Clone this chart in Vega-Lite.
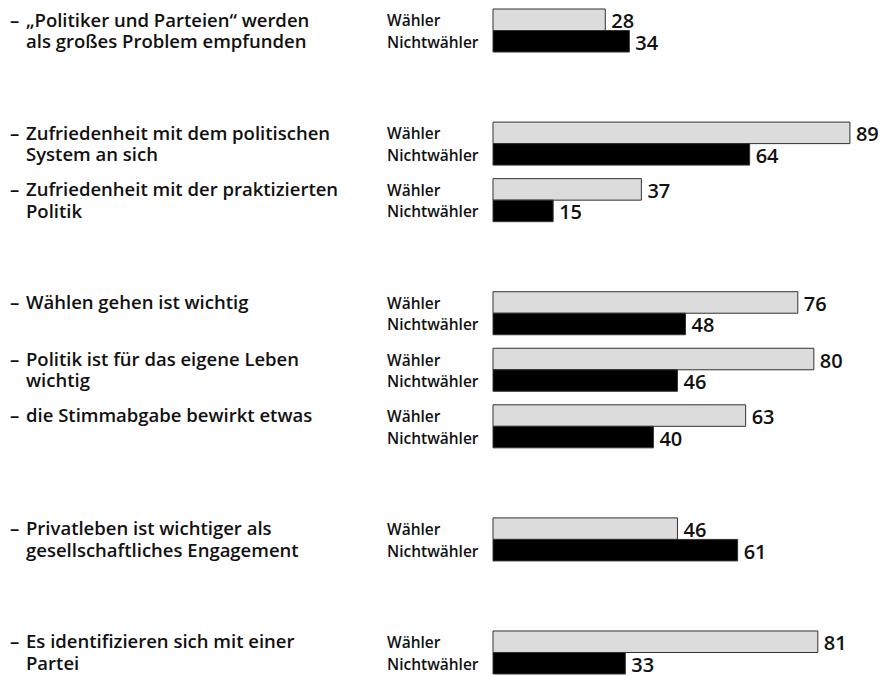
{
  "$schema": "https://vega.github.io/schema/vega-lite/v6.json",
  "width": 389,
  "height": 665,
  "autosize": {"type": "none"},
  "padding": {"left": 493, "top": 9, "right": 0, "bottom": 1},
  "background": "white",
  "config": {"view": {"stroke": null}, "font": "Open Sans"},
  "datasets": {
    "bars": [
      {"item": "s1", "group": "Wähler", "value": 28},
      {"item": "s1", "group": "Nichtwähler", "value": 34},
      {"item": "s2", "group": "Wähler", "value": 89},
      {"item": "s2", "group": "Nichtwähler", "value": 64},
      {"item": "s3", "group": "Wähler", "value": 37},
      {"item": "s3", "group": "Nichtwähler", "value": 15},
      {"item": "s4", "group": "Wähler", "value": 76},
      {"item": "s4", "group": "Nichtwähler", "value": 48},
      {"item": "s5", "group": "Wähler", "value": 80},
      {"item": "s5", "group": "Nichtwähler", "value": 46},
      {"item": "s6", "group": "Wähler", "value": 63},
      {"item": "s6", "group": "Nichtwähler", "value": 40},
      {"item": "s7", "group": "Wähler", "value": 46},
      {"item": "s7", "group": "Nichtwähler", "value": 61},
      {"item": "s8", "group": "Wähler", "value": 81},
      {"item": "s8", "group": "Nichtwähler", "value": 33}
    ],
    "labels": [
      {"item": "s1", "dash": "–", "label": "„Politiker und Parteien“ werden\nals großes Problem empfunden"},
      {"item": "s2", "dash": "–", "label": "Zufriedenheit mit dem politischen\nSystem an sich"},
      {"item": "s3", "dash": "–", "label": "Zufriedenheit mit der praktizierten\nPolitik"},
      {"item": "s4", "dash": "–", "label": "Wählen gehen ist wichtig"},
      {"item": "s5", "dash": "–", "label": "Politik ist für das eigene Leben\nwichtig"},
      {"item": "s6", "dash": "–", "label": "die Stimmabgabe bewirkt etwas"},
      {"item": "s7", "dash": "–", "label": "Privatleben ist wichtiger als\ngesellschaftliches Engagement"},
      {"item": "s8", "dash": "–", "label": "Es identifizieren sich mit einer\nPartei"}
    ]
  },
  "layer": [
    {
      "data": {"name": "bars"},
      "mark": {"type": "bar", "stroke": "#333333", "strokeWidth": 1},
      "encoding": {
        "y": {"field": "item", "type": "nominal", "scale": {"domain": ["s1", "g1", "s2", "s3", "g2", "s4", "s5", "s6", "g3", "s7", "g4", "s8"], "paddingInner": 0.239, "paddingOuter": 0}, "axis": null},
        "yOffset": {"field": "group", "type": "nominal", "scale": {"domain": ["Wähler", "Nichtwähler"], "paddingInner": 0, "paddingOuter": 0}},
        "x": {"field": "value", "type": "quantitative", "scale": {"domain": [0, 97], "nice": false, "zero": true}, "axis": null},
        "fill": {"field": "group", "type": "nominal", "scale": {"domain": ["Wähler", "Nichtwähler"], "range": ["#dcdcdc", "#000000"]}, "legend": null}
      }
    },
    {
      "data": {"name": "bars"},
      "mark": {"type": "text", "align": "left", "baseline": "alphabetic", "dx": 6, "dy": 8.5, "fontSize": 20, "fontWeight": 600, "color": "#111111"},
      "encoding": {
        "y": {"field": "item", "type": "nominal"},
        "yOffset": {"field": "group", "type": "nominal"},
        "x": {"field": "value", "type": "quantitative"},
        "text": {"field": "value", "type": "quantitative"}
      }
    },
    {
      "data": {"name": "bars"},
      "mark": {"type": "text", "align": "left", "baseline": "alphabetic", "dx": -106, "dy": 6.5, "fontSize": 15.5, "fontWeight": 600, "color": "#111111"},
      "encoding": {
        "y": {"field": "item", "type": "nominal"},
        "yOffset": {"field": "group", "type": "nominal"},
        "x": {"datum": 0, "type": "quantitative"},
        "text": {"field": "group", "type": "nominal"}
      }
    },
    {
      "data": {"name": "labels"},
      "mark": {"type": "text", "align": "left", "baseline": "alphabetic", "dx": -483, "dy": -4, "fontSize": 18.5, "fontWeight": 600, "color": "#111111"},
      "encoding": {
        "y": {"field": "item", "type": "nominal"},
        "x": {"datum": 0, "type": "quantitative"},
        "text": {"field": "dash", "type": "nominal"}
      }
    },
    {
      "data": {"name": "labels"},
      "mark": {"type": "text", "align": "left", "baseline": "alphabetic", "dx": -467, "dy": -4, "fontSize": 18.5, "fontWeight": 600, "color": "#111111", "lineBreak": "\n", "lineHeight": 21.5},
      "encoding": {
        "y": {"field": "item", "type": "nominal"},
        "x": {"datum": 0, "type": "quantitative"},
        "text": {"field": "label", "type": "nominal"}
      }
    }
  ]
}
